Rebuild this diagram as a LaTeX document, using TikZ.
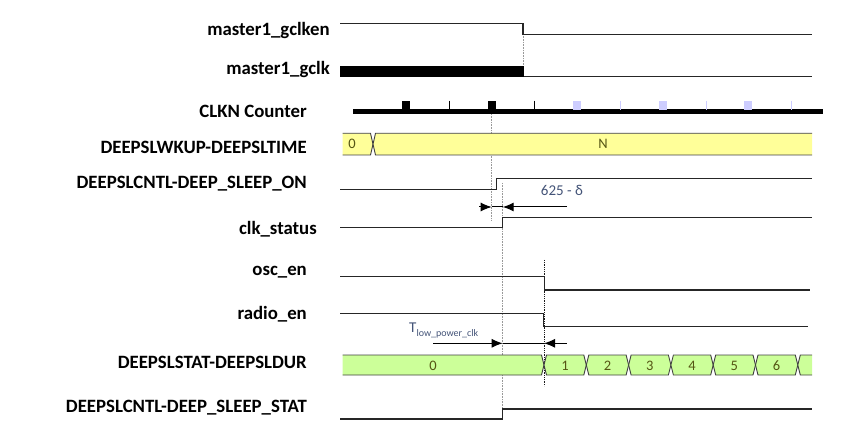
\documentclass[tikz,border=0pt]{standalone}
\usepackage{fontspec}
\setmainfont{Carlito}
\usepackage{xcolor}
\usepackage{tikz}
\usetikzlibrary{arrows.meta}

\definecolor{busyellow}{RGB}{255,255,153}
\definecolor{busgreen}{RGB}{204,255,153}
\definecolor{notecol}{RGB}{68,84,120}
\definecolor{valcol}{RGB}{85,85,20}
\definecolor{ghostblue}{RGB}{205,205,255}

\begin{document}
\begin{tikzpicture}[x=1pt,y=-1pt,
    sig/.style={anchor=east,inner sep=0pt,font=\bfseries\fontsize{18.8}{19}\selectfont},
    wave/.style={draw=black!85,line width=1.1pt},
    busbox/.style={draw=black!75,line width=0.9pt},
    val/.style={inner sep=0pt,text=valcol,font=\fontsize{14.5}{15}\selectfont},
    note/.style={inner sep=0pt,text=notecol,font=\fontsize{15}{15}\selectfont},
    guide/.style={draw=black!40,densely dotted,line width=0.6pt},
    blackguide/.style={draw=black!90,densely dotted,line width=0.8pt},
    dimarrow/.style={-{Latex[length=11pt,width=9pt]},line width=1pt,draw=black}
]
\useasboundingbox (0,0) rectangle (856,443);

% signal names
\node[sig] (gclken) at (330,31) {master1\_gclken};
\node[sig] (gclk) at (330,70) {master1\_gclk};
\node[sig] (clkn) at (307,111) {CLKN Counter};
\node[sig] (wkup) at (307,147) {DEEPSLWKUP-DEEPSLTIME};
\node[sig] (slpon) at (307,184) {DEEPSLCNTL-DEEP\_SLEEP\_ON};
\node[sig] (clkst) at (317,229) {clk\_status};
\node[sig] (oscen) at (307,272) {osc\_en};
\node[sig] (radioen) at (307,314) {radio\_en};
\node[sig] (dur) at (307,362) {DEEPSLSTAT-DEEPSLDUR};
\node[sig] (slpstat) at (307,408) {DEEPSLCNTL-DEEP\_SLEEP\_STAT};

% guide lines
\draw[guide] (523,34) -- (523,66);
\draw[guide] (491.7,114) -- (491.7,220);
\draw[guide] (502.7,183) -- (502.7,416);
\draw[blackguide] (544,260) -- (544,386);

% master1_gclken / master1_gclk
\draw[wave] (340,23.7) -- (523,23.7) -- (523,34.3) -- (812,34.3);
\fill[black] (340,65.7) rectangle (524,76.7);
\draw[wave] (524,76.7) -- (812,76.7);

% CLKN counter
\draw[line width=4.5pt] (353,111.7) -- (823,111.7);
\foreach \i in {0,1} {
    \fill[black] (402+85.6*\i,100.7) rectangle (410+85.6*\i,110);
    \draw[line width=1pt] (449.3+85.6*\i,100.7) -- (449.3+85.6*\i,110);
}
\foreach \i in {2,3,4} {
    \fill[ghostblue] (402+85.6*\i,100.7) rectangle (410+85.6*\i,110);
    \draw[ghostblue,line width=1.2pt] (449.3+85.6*\i,100.7) -- (449.3+85.6*\i,110);
}

% DEEPSLWKUP-DEEPSLTIME bus
\fill[busyellow] (342.7,133.3) -- (370.5,133.3) -- (373,144.2) -- (370.5,155)
    -- (342.7,155) -- cycle;
\draw[busbox] (342.7,133.3) -- (370.5,133.3) -- (373,144.2) -- (370.5,155) -- (342.7,155);
\fill[busyellow] (812,133.3) -- (375.5,133.3) -- (373,144.2) -- (375.5,155)
    -- (812,155) -- cycle;
\draw[busbox] (812,133.3) -- (375.5,133.3) -- (373,144.2) -- (375.5,155) -- (812,155);
\node[val] (w0) at (352,144.2) {0};
\node[val] (wn) at (603,144.2) {N};

% DEEP_SLEEP_ON and clk_status
\draw[wave] (340,189.3) -- (496.7,189.3) -- (496.7,178.3) -- (812,178.3);
\draw[wave] (340,227.3) -- (502.7,227.3) -- (502.7,217.7) -- (812,217.7);

\node[note] (d625) at (562,190) {625 - δ};
\coordinate (a1) at (479,207);
\coordinate (a2) at (491.7,207);
\coordinate (a3) at (502.7,207);
\coordinate (a4) at (567,207);
\draw[dimarrow] (a1) -- (a2);
\draw[line width=1pt] (a2) -- (a3);
\draw[dimarrow] (a4) -- (a3);

% osc_en / radio_en
\draw[wave] (340,276.7) -- (544.3,276.7) -- (544.3,290) -- (810,290);
\draw[wave] (340,313.3) -- (543.7,313.3) -- (543.7,326.7) -- (808,326.7);

\node[note,anchor=base west] (tlow) at (409,333)
    {T\raisebox{-3pt}{\fontsize{10}{10}\selectfont low\_power\_clk}};
\coordinate (b1) at (433,343.3);
\coordinate (b2) at (502.7,343.3);
\coordinate (b3) at (544,343.3);
\coordinate (b4) at (566.7,343.3);
\draw[dimarrow] (b1) -- (b2);
\draw[line width=1pt] (b2) -- (b3);
\draw[dimarrow] (b4) -- (b3);

% DEEPSLSTAT-DEEPSLDUR bus
\fill[busgreen] (342.7,355) -- (541.5,355) -- (544,365) -- (541.5,375) -- (342.7,375) -- cycle;
\draw[busbox] (342.7,355) -- (541.5,355) -- (544,365) -- (541.5,375) -- (342.7,375);
\node[val] (s0) at (433,365.5) {0};
\foreach \k in {1,...,6} {
    \pgfmathsetmacro\xa{544+42.3*(\k-1)}
    \pgfmathsetmacro\xb{544+42.3*\k}
    \filldraw[busbox,fill=busgreen] (\xa,365) -- (\xa+2.5,355) -- (\xb-2.5,355) -- (\xb,365)
        -- (\xb-2.5,375) -- (\xa+2.5,375) -- cycle;
    \node[val] (s\k) at ({(\xa+\xb)/2},365.5) {\k};
}
\fill[busgreen] (797.8,365) -- (800.3,355) -- (812,355) -- (812,375) -- (800.3,375) -- cycle;
\draw[busbox] (812,355) -- (800.3,355) -- (797.8,365) -- (800.3,375) -- (812,375);

% DEEP_SLEEP_STAT
\draw[wave] (340,419) -- (502.7,419) -- (502.7,409) -- (812,409);
\end{tikzpicture}
\end{document}
